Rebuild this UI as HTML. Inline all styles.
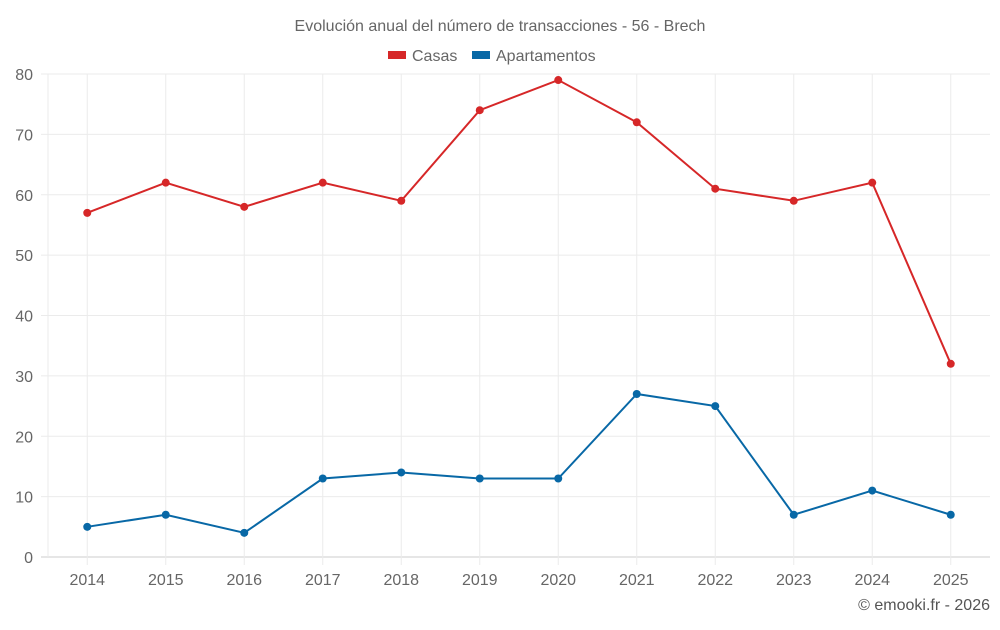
<!DOCTYPE html>
<html><head><meta charset="utf-8"><style>
body{margin:0;background:#fff;font-family:"Liberation Sans",sans-serif;}
svg text{font-family:"Liberation Sans",sans-serif;}
</style></head><body>
<svg id="chart" width="1000" height="625">
<text x="500" y="31" text-anchor="middle" font-size="16" fill="#666">Evolución anual del número de transacciones - 56 - Brech</text>
<g>
<g><rect x="388" y="51" width="18" height="8" fill="#d62728"/><text x="412" y="61" font-size="16" fill="#666">Casas</text></g>
<g><rect x="472" y="51" width="18" height="8" fill="#0868a6"/><text x="496" y="61" font-size="16" fill="#666">Apartamentos</text></g>
</g>
<g id="grid"></g>
<g id="axes"></g>
<g id="series"></g>
<text x="990" y="610" text-anchor="end" font-size="16" fill="#555">© emooki.fr - 2026</text>
</svg>
<script>
const years=["2014","2015","2016","2017","2018","2019","2020","2021","2022","2023","2024","2025"];
const casas=[57,62,58,62,59,74,79,72,61,59,62,32];
const apartamentos=[5,7,4,13,14,13,13,27,25,7,11,7];
const yTicks=[0,10,20,30,40,50,60,70,80];
const NS="http://www.w3.org/2000/svg";
const L=48,R=990,T=74,B=557,ymax=80;
const step=(R-L)/years.length;
const x=i=>L+step*(i+0.5);
const y=v=>B-(v/ymax)*(B-T);
function mk(tag,attrs,parent){const e=document.createElementNS(NS,tag);for(const k in attrs)e.setAttribute(k,attrs[k]);parent.appendChild(e);return e;}
const grid=document.getElementById('grid'),axes=document.getElementById('axes'),ser=document.getElementById('series');
yTicks.forEach(t=>{
 const g=mk('line',{x1:L-7,x2:R,y1:y(t),y2:y(t),stroke:t===0?'#ccc':'#ebebeb','stroke-width':1},grid);
 
 
 const tx=mk('text',{x:L-15,y:y(t)+6,'text-anchor':'end','font-size':16,fill:'#666'},axes);
 tx.textContent=t;
 
 
});
const lb=mk('line',{x1:L,x2:L,y1:T,y2:B,stroke:'#ebebeb'},grid);


years.forEach((yr,i)=>{
 const g=mk('line',{x1:x(i),x2:x(i),y1:T,y2:B+8,stroke:'#ebebeb'},grid);
 
 
 const tx=mk('text',{x:x(i),y:585,'text-anchor':'middle','font-size':16,fill:'#666'},axes);
 tx.textContent=yr;
 
 
});
function draw(vals,color,name){
 const p=mk('polyline',{points:vals.map((v,i)=>x(i)+','+y(v)).join(' '),fill:'none',stroke:color,'stroke-width':2},ser);
 
 
 vals.forEach((v,i)=>{
  const c=mk('circle',{cx:x(i),cy:y(v),r:4,fill:color},ser);
  
  
 });
}
draw(casas,'#d62728','casas');
draw(apartamentos,'#0868a6','apartamentos');
</script>
</body></html>
